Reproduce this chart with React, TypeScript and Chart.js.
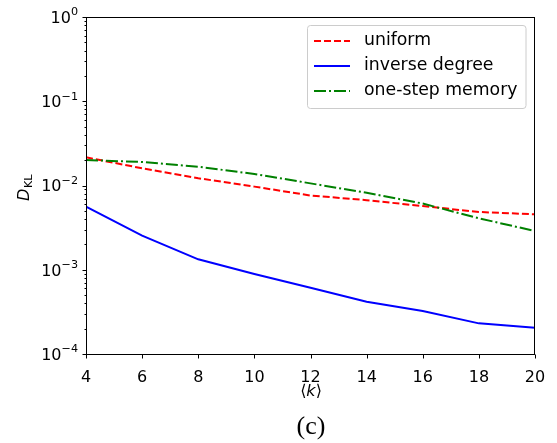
import React, { useEffect, useRef } from "react";
import { Chart, registerables } from "chart.js";

Chart.register(...registerables);

const kValues = [4, 6, 8, 10, 12, 14, 16, 18, 20];
const uniform = [0.0216, 0.016, 0.0122, 0.0097, 0.0076, 0.0067, 0.0057, 0.00485, 0.00455];
const inverseDegree = [0.0056, 0.00254, 0.00133, 0.00089, 0.00061, 0.000418, 0.000324, 0.000231, 0.000205];
const oneStepMemory = [0.0201, 0.019, 0.0167, 0.0137, 0.0106, 0.0082, 0.0061, 0.00408, 0.00288];
const seriesLabels = ["uniform", "inverse degree", "one-step memory"];
const xTickValues = [4, 6, 8, 10, 12, 14, 16, 18, 20];
const yTickValues = [1e-4, 1e-3, 1e-2, 1e-1, 1];

const FONT = "'DejaVu Sans', 'Noto Sans', sans-serif";
const colors = ["#ff0000", "#0000ff", "#008000"];
const dashes: number[][] = [[7, 3], [], [12, 3, 2, 3]];

const overlay = {
  id: "overlay",
  afterDraw(chart: any) {
    const { ctx, chartArea: a, scales } = chart;
    const xs = scales.x;
    const ys = scales.y;
    ctx.save();
    // spines
    ctx.strokeStyle = "#000";
    ctx.lineWidth = 1;
    ctx.setLineDash([]);
    const L = Math.round(a.left) + 0.5;
    const R = Math.round(a.right) - 0.5;
    const T = Math.round(a.top) + 0.5;
    const B = Math.round(a.bottom) + 0.5;
    ctx.strokeRect(L, T, R - L, B - T);
    // x ticks
    ctx.beginPath();
    for (const v of xTickValues) {
      const px = Math.round(xs.getPixelForValue(v)) + 0.5;
      ctx.moveTo(px, B);
      ctx.lineTo(px, B + 4);
    }
    // y ticks (major + minor)
    for (const v of yTickValues) {
      const py = Math.round(ys.getPixelForValue(v)) + 0.5;
      ctx.moveTo(L, py);
      ctx.lineTo(L - 4, py);
    }
    for (let e = -4; e < 0; e++) {
      for (let m = 2; m <= 9; m++) {
        const py = Math.round(ys.getPixelForValue(m * Math.pow(10, e))) + 0.5;
        ctx.moveTo(L, py);
        ctx.lineTo(L - 2, py);
      }
    }
    ctx.stroke();

    // y tick labels 10^n with real superscripts
    ctx.fillStyle = "#000";
    ctx.textBaseline = "alphabetic";
    ctx.textAlign = "left";
    for (const v of yTickValues) {
      const py = ys.getPixelForValue(v);
      const exp = Math.round(Math.log10(v));
      const expStr = exp < 0 ? "\u2212" + String(-exp) : String(exp);
      ctx.font = `16px ${FONT}`;
      const wBase = ctx.measureText("10").width;
      ctx.font = `11.2px ${FONT}`;
      const wExp = ctx.measureText(expStr).width;
      const x0 = 78 - wBase - wExp;
      const base = py + 5.8;
      ctx.font = `16px ${FONT}`;
      ctx.fillText("10", x0, base);
      ctx.font = `11.2px ${FONT}`;
      ctx.fillText(expStr, x0 + wBase, base - 7.5);
    }

    // y axis title D_KL
    ctx.save();
    ctx.translate(24, 188);
    ctx.rotate(-Math.PI / 2);
    ctx.fillStyle = "#000";
    ctx.textBaseline = "alphabetic";
    ctx.font = `italic 16px ${FONT}`;
    const wD = ctx.measureText("D").width;
    ctx.font = `11.2px ${FONT}`;
    const wK = ctx.measureText("KL").width;
    const x0 = -(wD + wK) / 2;
    ctx.font = `italic 16px ${FONT}`;
    ctx.fillText("D", x0, 5);
    ctx.font = `11.2px ${FONT}`;
    ctx.fillText("KL", x0 + wD + 0.5, 8);
    ctx.restore();

    // x axis title <k>
    ctx.fillStyle = "#000";
    ctx.textBaseline = "middle";
    ctx.textAlign = "left";
    ctx.font = `16px ${FONT}`;
    const wl = ctx.measureText("⟨").width;
    ctx.font = `italic 16px ${FONT}`;
    const wk = ctx.measureText("k").width;
    ctx.font = `16px ${FONT}`;
    const wr = ctx.measureText("⟩").width;
    let cx = 311 - (wl + wk + wr) / 2;
    ctx.fillText("⟨", cx, 392);
    cx += wl;
    ctx.font = `italic 16px ${FONT}`;
    ctx.fillText("k", cx, 392);
    cx += wk;
    ctx.font = `16px ${FONT}`;
    ctx.fillText("⟩", cx, 392);

    // caption (c)
    ctx.textAlign = "center";
    ctx.font = `26px 'Liberation Serif', 'DejaVu Serif', serif`;
    ctx.fillText("(c)", 311, 427);

    // legend
    const bx = 307.5, by = 25.5, bw = 218.5, bh = 83;
    ctx.beginPath();
    ctx.roundRect(bx, by, bw, bh, 3);
    ctx.fillStyle = "rgba(255,255,255,0.8)";
    ctx.fill();
    ctx.strokeStyle = "#cccccc";
    ctx.lineWidth = 1;
    ctx.stroke();
    const rows = [41, 66, 91];
    seriesLabels.forEach((lab, i) => {
      ctx.beginPath();
      ctx.strokeStyle = colors[i];
      ctx.lineWidth = 2;
      ctx.setLineDash(dashes[i]);
      ctx.moveTo(314, rows[i]);
      ctx.lineTo(350, rows[i]);
      ctx.stroke();
      ctx.setLineDash([]);
      ctx.fillStyle = "#000";
      ctx.font = `17.3px ${FONT}`;
      ctx.textAlign = "left";
      ctx.textBaseline = "middle";
      ctx.fillText(lab, 364, rows[i]);
    });
    ctx.restore();
  },
};

export default function App() {
  const ref = useRef<HTMLCanvasElement>(null);
  useEffect(() => {
    document.body.style.margin = "0";
    const series = [uniform, inverseDegree, oneStepMemory];
    const chart = new Chart(ref.current!, {
      type: "line",
      data: {
        datasets: series.map((vals, i) => ({
          label: seriesLabels[i],
          data: kValues.map((k, j) => ({ x: k, y: vals[j] })),
          borderColor: colors[i],
          backgroundColor: colors[i],
          borderDash: dashes[i],
          borderWidth: 2,
          pointRadius: 0,
          tension: 0,
          fill: false,
          order: 3 - i,
        })),
      },
      options: {
        animation: false,
        responsive: false,
        layout: { padding: { top: 17, right: 22, left: 0, bottom: 0 } },
        plugins: { legend: { display: false }, tooltip: { enabled: false } },
        scales: {
          x: {
            type: "linear",
            min: 4,
            max: 20,
            grid: { display: false },
            border: { display: false },
            afterFit: (s: any) => { s.height = 89; },
            afterBuildTicks: (s: any) => { s.ticks = xTickValues.map((v) => ({ value: v })); },
            ticks: {
              autoSkip: false,
              maxRotation: 0,
              padding: 6,
              color: "#000",
              font: { family: FONT, size: 16 },
              callback: (v: any) => String(v),
            },
          },
          y: {
            type: "logarithmic",
            min: 1e-4,
            max: 1,
            grid: { display: false },
            border: { display: false },
            afterFit: (s: any) => { s.width = 86; },
            afterBuildTicks: (s: any) => { s.ticks = yTickValues.map((v) => ({ value: v })); },
            ticks: { display: false },
          },
        },
      },
      plugins: [overlay],
    });
    return () => chart.destroy();
  }, []);
  return (
    <div style={{ position: "fixed", left: 0, top: 0, width: 557, height: 443, background: "#fff" }}>
      <canvas ref={ref} width={557} height={443} />
    </div>
  );
}
